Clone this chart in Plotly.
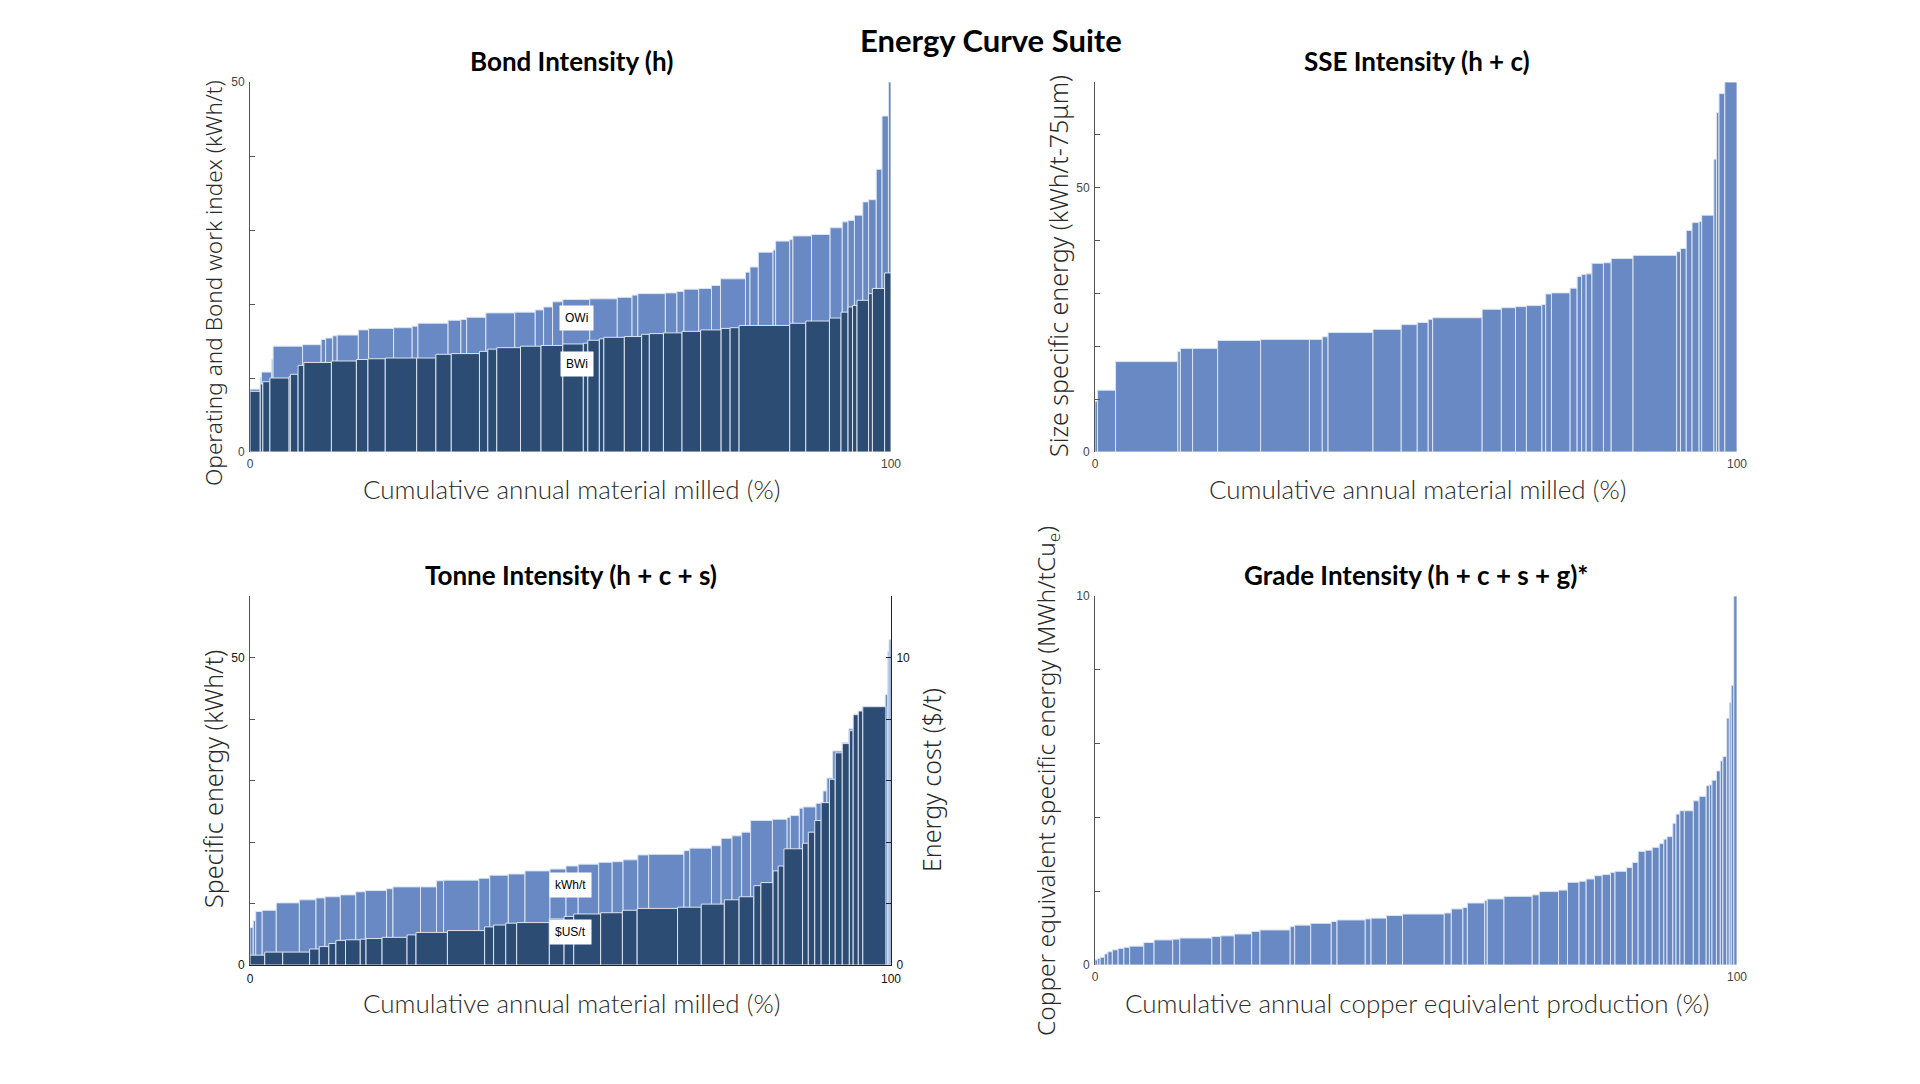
import numpy as np
import plotly.graph_objects as go

# ---------------- DATA ----------------
# Bond Intensity (h): widths (% of cumulative material milled) and values (kWh/t)
bond_owi_width = [1.6, 0.2, 1.6, 0.2, 4.6, 2.9, 0.7, 1.1, 0.7, 3.3, 1.6, 3.9, 2.9, 0.9, 4.7, 2.0, 0.9, 3.0,
                  4.5, 3.2, 1.3, 1.4, 1.6, 4.2, 4.3, 2.3, 0.9, 4.3, 1.8, 1.1, 2.3, 2.0, 1.4, 3.9, 0.7, 1.3,
                  2.3, 0.4, 2.2, 0.5, 2.9, 2.9, 1.9, 0.9, 1.0, 1.3, 0.9, 1.2, 0.9, 1.0, 0.4]
bond_owi_value = [8.5, 10.1, 10.8, 12.5, 14.3, 14.5, 15.2, 15.4, 15.7, 15.8, 16.5, 16.7, 16.8, 17.0, 17.4,
                  17.8, 17.9, 18.2, 18.8, 18.9, 19.2, 19.6, 20.3, 20.6, 20.7, 20.9, 21.2, 21.4, 21.5, 21.7,
                  22.0, 22.1, 22.5, 23.4, 24.3, 25.0, 27.0, 27.3, 28.5, 28.7, 29.2, 29.4, 30.3, 31.1, 31.3,
                  32.0, 33.8, 34.1, 38.2, 45.4, 50.0]
bond_bwi_width = [1.6, 0.4, 1.1, 3.0, 0.2, 1.2, 0.9, 4.3, 3.9, 1.8, 2.7, 4.9, 3.0, 2.4, 4.4, 1.3, 1.4, 3.7,
                  3.2, 3.4, 3.2, 0.7, 1.8, 0.7, 3.2, 2.7, 1.2, 2.2, 2.9, 2.9, 3.2, 1.4, 1.4, 7.9, 2.5, 3.7,
                  1.8, 1.1, 0.7, 0.7, 1.8, 0.6, 1.9, 1.0]
bond_bwi_value = [8.2, 9.2, 9.5, 10.0, 10.2, 10.5, 11.7, 12.1, 12.3, 12.5, 12.6, 12.7, 12.7, 13.2, 13.3,
                  13.6, 13.9, 14.1, 14.3, 14.4, 14.6, 14.7, 15.1, 15.3, 15.5, 15.6, 15.9, 16.0, 16.1, 16.3,
                  16.5, 16.7, 16.8, 17.1, 17.4, 17.7, 18.1, 18.9, 19.6, 19.8, 20.5, 21.4, 22.1, 24.2]

# SSE Intensity (h + c): kWh/t-75um
sse_width = [0.4, 2.8, 9.7, 0.4, 1.9, 3.9, 6.7, 7.6, 2.0, 0.9, 7.0, 4.4, 2.5, 1.7, 0.7, 7.7, 3.0, 2.2, 1.7,
             2.4, 0.6, 0.9, 2.9, 1.1, 0.7, 0.7, 0.9, 1.8, 1.2, 3.4, 6.8, 0.6, 0.9, 0.9, 1.1, 0.4, 1.9, 0.4,
             0.4, 0.9, 1.9]
sse_value = [9.6, 11.7, 17.1, 19.0, 19.6, 19.6, 21.1, 21.3, 21.3, 21.8, 22.6, 23.2, 24.1, 24.5, 25.1, 25.4,
             27.0, 27.3, 27.5, 27.7, 27.9, 29.9, 30.1, 31.0, 33.2, 33.6, 33.7, 35.7, 35.8, 36.6, 37.2, 37.9,
             38.5, 41.9, 43.4, 43.6, 44.8, 55.4, 64.2, 67.8, 70.0]

# Tonne Intensity (h + c + s): kWh/t and $US/t
tonne_kwh_width = [0.5, 0.4, 1.0, 2.2, 3.6, 2.6, 1.4, 2.4, 2.4, 1.5, 3.3, 1.0, 4.3, 2.5, 1.1, 5.5, 1.7, 2.9,
                   2.6, 3.9, 2.5, 1.9, 3.2, 2.1, 1.7, 2.3, 1.7, 5.5, 0.9, 3.4, 1.5, 1.7, 1.5, 1.4, 3.4, 2.3,
                   0.5, 1.4, 0.6, 2.0, 1.1, 0.6, 0.9, 1.5, 1.0, 0.8, 0.7, 0.6, 3.6, 0.4, 0.2, 0.3]
tonne_kwh_value = [6.1, 7.2, 8.7, 8.9, 10.1, 10.6, 10.9, 11.1, 11.4, 11.9, 12.1, 12.4, 12.7, 12.7, 13.7, 13.8,
                   14.1, 14.6, 14.8, 15.3, 15.6, 16.1, 16.4, 16.7, 16.8, 17.1, 17.9, 18.0, 18.6, 19.0, 19.4,
                   20.6, 21.0, 21.6, 23.5, 23.7, 24.0, 24.3, 25.5, 25.7, 26.3, 28.3, 30.4, 34.8, 36.2, 38.4,
                   40.8, 41.3, 42.0, 44.0, 51.0, 52.9]
tonne_usd_width = [2.3, 2.8, 4.2, 1.5, 1.5, 1.1, 1.5, 2.3, 0.9, 2.5, 3.9, 1.4, 4.9, 5.8, 1.4, 1.9, 1.7, 5.1,
                   2.3, 1.5, 4.2, 3.4, 2.3, 6.3, 3.7, 3.6, 2.3, 2.3, 1.1, 1.9, 0.8, 0.9, 2.9, 0.9, 1.0, 1.0,
                   1.3, 0.9, 1.1, 1.1, 0.6, 0.8, 0.7, 3.6]
tonne_usd_value = [0.32, 0.42, 0.42, 0.52, 0.60, 0.70, 0.80, 0.82, 0.84, 0.86, 0.90, 0.98, 1.06, 1.12, 1.24,
                   1.30, 1.36, 1.38, 1.50, 1.58, 1.66, 1.70, 1.78, 1.84, 1.88, 1.98, 2.12, 2.22, 2.58, 2.68,
                   3.06, 3.22, 3.78, 3.96, 4.32, 4.70, 5.28, 6.04, 6.90, 7.20, 7.62, 8.14, 8.26, 8.40]

# Grade Intensity (h + c + s + g)*: MWh/tCu_e
grade_width = [0.4, 0.4, 0.7, 0.5, 0.7, 0.9, 0.9, 0.9, 2.2, 1.6, 2.9, 1.1, 5.0, 1.4, 2.1, 2.7, 1.3, 4.7, 0.7,
               2.5, 3.2, 0.9, 4.4, 0.9, 2.4, 2.5, 6.5, 1.1, 1.8, 0.7, 2.7, 0.4, 2.6, 4.4, 1.1, 3.0, 1.4, 1.8,
               1.1, 1.3, 1.2, 1.3, 0.7, 1.8, 0.9, 0.9, 1.1, 1.1, 1.1, 0.7, 0.5, 0.9, 0.5, 0.6, 0.7, 1.4, 0.9,
               1.1, 0.5, 0.4, 0.7, 0.6, 0.4, 0.6, 0.4, 0.3, 0.4, 0.5]
grade_value = [0.14, 0.18, 0.21, 0.30, 0.36, 0.41, 0.45, 0.48, 0.51, 0.61, 0.68, 0.70, 0.73, 0.77, 0.79, 0.84,
               0.91, 0.95, 1.04, 1.08, 1.13, 1.18, 1.22, 1.25, 1.27, 1.34, 1.38, 1.41, 1.52, 1.56, 1.68, 1.75,
               1.79, 1.86, 1.90, 1.99, 2.03, 2.24, 2.27, 2.33, 2.42, 2.45, 2.51, 2.54, 2.64, 2.78, 3.08, 3.11,
               3.19, 3.29, 3.41, 3.48, 3.84, 4.09, 4.18, 4.18, 4.45, 4.57, 4.86, 4.88, 5.01, 5.26, 5.53, 5.65,
               6.69, 7.11, 7.58, 10.0]

# Axis tick labels
x_ticks = [0, 100]
bond_yticks = [0, 50]
sse_yticks = [0, 50]
tonne_yticks = [0, 50]
cost_yticks = [0, 10]
grade_yticks = [0, 10]

# ---------------- STYLE ----------------
W, H = 1920, 1084
LIGHT = "#6889c3"
DARK = "#2c4c74"
EDGE = "#dce4f1"
AXC = "#555555"
TICKFONT = dict(family="Liberation Sans Narrow, Arial Narrow, sans-serif", size=12, color="#444444")
TITLEFONT = dict(family="Lato, sans-serif", size=26, color="black", weight="bold")
XTFONT = dict(family="Lato, sans-serif", size=26, color="#2a2a2a", weight=300)
YTFONT = dict(family="Noto Sans, sans-serif", size=25, color="#2a2a2a", weight=300)


def px_x(px):
    return px / W


def px_y(py):
    return 1 - py / H


def lefts(widths):
    w = np.asarray(widths, dtype=float)
    return np.concatenate([[0.0], np.cumsum(w)[:-1]])


def bars(widths, values, color, xa, ya, name):
    return go.Bar(x=lefts(widths), y=values, width=widths, offset=0, xaxis=xa, yaxis=ya,
                  marker=dict(color=color, line=dict(color=EDGE, width=1)), name=name,
                  showlegend=False, hoverinfo="y")


fig = go.Figure()
fig.add_trace(bars(bond_owi_width, bond_owi_value, LIGHT, "x", "y", "OWi"))
fig.add_trace(bars(bond_bwi_width, bond_bwi_value, DARK, "x", "y", "BWi"))
fig.add_trace(bars(sse_width, sse_value, LIGHT, "x2", "y2", "SSE"))
fig.add_trace(bars(tonne_kwh_width, tonne_kwh_value, LIGHT, "x3", "y3", "kWh/t"))
fig.add_trace(bars(tonne_usd_width, tonne_usd_value, DARK, "x3", "y5", "$US/t"))
fig.add_trace(bars(grade_width, grade_value, LIGHT, "x4", "y4", "MWh/tCue"))

XL = [px_x(250), px_x(891)]
XR = [px_x(1095), px_x(1737)]
YT = [px_y(452), px_y(82)]
YB = [px_y(965), px_y(596)]


def xax(domain, anchor, line=False):
    return dict(domain=domain, anchor=anchor, range=[0, 100], tickvals=x_ticks,
                ticks="", showgrid=False, zeroline=False, showline=line, linecolor="#222222",
                linewidth=1, tickfont=TICKFONT, fixedrange=True, automargin=False,
                ticklabelstandoff=3)


def yax(domain, anchor, rng, labels, step, color=AXC, side="left"):
    return dict(domain=domain, anchor=anchor, range=[0, rng], tickvals=labels,
                ticks="inside", ticklen=5, tickcolor=color, showgrid=False, zeroline=False,
                minor=dict(tick0=0, dtick=step, ticks="inside", ticklen=5, tickcolor=color, showgrid=False),
                showline=True, linecolor=color, linewidth=1, tickfont=TICKFONT, side=side,
                fixedrange=True, automargin=False, ticklabelstandoff=2)


fig.update_layout(
    width=W, height=H, margin=dict(l=0, r=0, t=0, b=0, pad=0, autoexpand=False),
    paper_bgcolor="white", plot_bgcolor="white", barmode="overlay", showlegend=False,
    xaxis=xax(XL, "y"), yaxis=yax(YT, "x", 50, bond_yticks, 10),
    xaxis2=xax(XR, "y2"), yaxis2=yax(YT, "x2", 70, sse_yticks, 10),
    xaxis3=xax(XL, "y3", line=True), yaxis3=yax(YB, "x3", 60, tonne_yticks, 10),
    xaxis4=xax(XR, "y4"), yaxis4=yax(YB, "x4", 10, grade_yticks, 2),
)
fig.layout.xaxis3.tickfont = dict(TICKFONT, color="#111111")
fig.layout.yaxis3.tickfont = dict(TICKFONT, color="#111111")
y5 = yax(YB, "x3", 12, cost_yticks, 2, color="#222222", side="right")
y5["overlaying"] = "y3"
y5["tickfont"] = dict(TICKFONT, color="#111111")
fig.layout.yaxis5 = y5

ann = []


def txt(text, x, y, font, angle=0):
    ann.append(dict(text=text, x=px_x(x), y=px_y(y), xref="paper", yref="paper", showarrow=False,
                    xanchor="center", yanchor="middle", font=font, textangle=angle))


txt("Energy Curve Suite", 991, 40, dict(TITLEFONT, size=31))
txt("Bond Intensity (h)", 571, 61, TITLEFONT)
txt("SSE Intensity (h + c)", 1417, 61, TITLEFONT)
txt("Tonne Intensity (h + c + s)", 571, 575, TITLEFONT)
txt("Grade Intensity (h + c + s + g)*", 1416, 575, TITLEFONT)

txt("Cumulative annual material milled (%)", 571, 489, XTFONT)
txt("Cumulative annual material milled (%)", 1417, 489, XTFONT)
txt("Cumulative annual material milled (%)", 571, 1003, XTFONT)
txt("Cumulative annual copper equivalent production (%)", 1417, 1003, XTFONT)

txt("Operating and Bond work index (kWh/t)", 213, 283, dict(YTFONT, size=22.6), -90)
txt("Size specific energy (kWh/t-75μm)", 1058, 266, YTFONT, -90)
txt("Specific energy (kWh/t)", 213, 779, YTFONT, -90)
txt("Energy cost ($/t)", 931, 780, YTFONT, -90)
txt("Copper equivalent specific energy (MWh/tCu<sub>e</sub>)", 1047, 781, dict(YTFONT, size=24.5), -90)

LABFONT = dict(family="Liberation Sans, Arial, sans-serif", size=12, color="black")
for text, xr, yr, xv, yv in [("OWi", "x", "y", 51, 18.1), ("BWi", "x", "y", 51, 11.9),
                             ("kWh/t", "x3", "y3", 50, 13.0), ("$US/t", "x3", "y3", 50, 5.4)]:
    ann.append(dict(text=text, x=xv, y=yv, xref=xr, yref=yr, showarrow=False, bgcolor="white",
                    borderpad=5, font=LABFONT, xanchor="center", yanchor="middle"))

fig.update_layout(annotations=ann)
fig.write_html("out.html")
